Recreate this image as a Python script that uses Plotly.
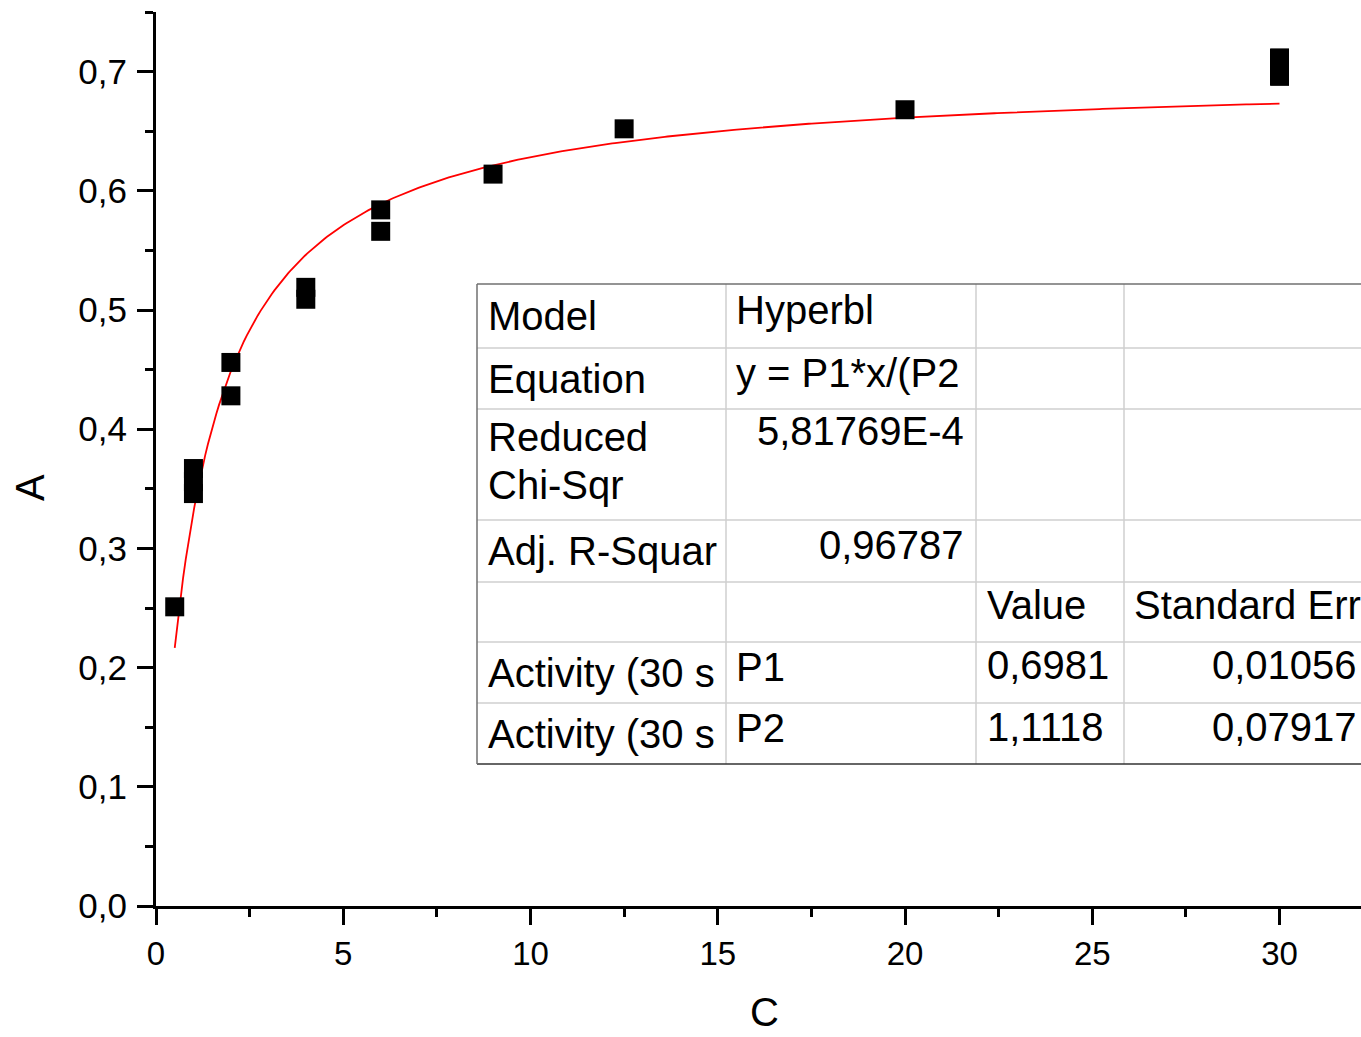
import numpy as np
import plotly.graph_objects as go

# ---- data ----
conc = [0.5, 1, 1, 1, 2, 2, 4, 4, 6, 6, 9, 12.5, 20, 30, 30]
activity = [0.251, 0.367, 0.356, 0.346, 0.456, 0.428, 0.519, 0.509,
            0.584, 0.566, 0.614, 0.652, 0.668, 0.7115, 0.696]

# fitted hyperbola parameters (from the fit table)
P1 = 0.6981
P2 = 1.1118

x_ticks = [0, 5, 10, 15, 20, 25, 30]
y_ticks = [0.0, 0.1, 0.2, 0.3, 0.4, 0.5, 0.6, 0.7]

# fit results table (rows x columns)
col_model = ["Model", "Equation", "Reduced\nChi-Sqr", "Adj. R-Squar", "",
             "Activity (30 s", "Activity (30 s"]
col_param = ["Hyperbl", "y = P1*x/(P2", "5,81769E-4", "0,96787", "", "P1", "P2"]
col_value = ["", "", "", "", "Value", "0,6981", "1,1118"]
col_err = ["", "", "", "", "Standard Err", "0,01056", "0,07917"]

# ---- layout geometry (pixels) ----
W, H = 1361, 1037
L, R, T, B = 156, 0, 12, 131
PW, PH = W - L - R, H - T - B
FONT = "Liberation Sans, Arial, sans-serif"


def px(x):
    return (x - L) / PW


def py(y):
    return (H - B - y) / PH


fit_x = np.linspace(min(conc), max(conc), 400)
fit_y = P1 * fit_x / (P2 + fit_x)

fig = go.Figure()
fig.add_trace(go.Scatter(x=fit_x, y=fit_y, mode="lines",
                         line=dict(color="#ff0000", width=1.8),
                         hoverinfo="skip", showlegend=False))
fig.add_trace(go.Scatter(x=conc, y=activity, mode="markers",
                         marker=dict(symbol="square", size=19, color="black",
                                     line=dict(width=0)),
                         showlegend=False))

# ---- table ----
col_edges = [477, 726, 976, 1124, 1372]
row_edges = [284, 348, 409, 520, 582, 642, 703, 764]
inner = "#cfcfcf"
outer = "#707070"
shapes = []
for yv in row_edges[1:-1]:
    shapes.append(dict(type="line", xref="paper", yref="paper",
                       x0=px(col_edges[0]), x1=px(col_edges[-1]), y0=py(yv), y1=py(yv),
                       line=dict(color=inner, width=1.5)))
for xv in col_edges[1:-1]:
    shapes.append(dict(type="line", xref="paper", yref="paper",
                       x0=px(xv), x1=px(xv), y0=py(row_edges[0]), y1=py(row_edges[-1]),
                       line=dict(color=inner, width=1.5)))
for yv in (row_edges[0], row_edges[-1]):
    shapes.append(dict(type="line", xref="paper", yref="paper",
                       x0=px(col_edges[0]), x1=px(col_edges[-1]), y0=py(yv), y1=py(yv),
                       line=dict(color=outer if yv == row_edges[0] else "#333333", width=1.5)))
shapes.append(dict(type="line", xref="paper", yref="paper",
                   x0=px(col_edges[0]), x1=px(col_edges[0]),
                   y0=py(row_edges[0]), y1=py(row_edges[-1]),
                   line=dict(color=outer, width=1.5)))

annotations = []
tf = dict(family=FONT, size=40, color="black")
pad = 9


def add_text(t, xpix, ypix, anchor):
    annotations.append(dict(text=t, xref="paper", yref="paper", x=px(xpix), y=py(ypix),
                            xanchor=anchor, yanchor="middle", showarrow=False, font=tf))


for i in range(len(row_edges) - 1):
    top, bot = row_edges[i], row_edges[i + 1]
    mid = (top + bot) / 2
    # column 1
    lines = col_model[i].split("\n")
    ys = [mid] if len(lines) == 1 else [top + 28, top + 76]
    for t, yv in zip(lines, ys):
        if t:
            add_text(t, col_edges[0] + pad, yv, "left")
    # column 2
    t = col_param[i]
    if t:
        yv = top + 22 if i == 2 else mid - 6
        if i in (2, 3):
            add_text(t, col_edges[2] - 10, yv, "right")
        else:
            add_text(t, col_edges[1] + 8, yv, "left")
    # column 3
    t = col_value[i]
    if t:
        add_text(t, col_edges[2] + pad, mid - 7, "left")
    # column 4
    t = col_err[i]
    if t:
        if i == 4:
            add_text(t, col_edges[3] + 8, mid - 7, "left")
        else:
            add_text(t, 1359, mid - 7, "right")

# axis titles
annotations.append(dict(text="C", xref="paper", yref="paper", x=px(764), y=py(1036),
                        xanchor="center", yanchor="bottom", showarrow=False,
                        font=dict(family=FONT, size=40, color="black")))
annotations.append(dict(text="A", xref="paper", yref="paper", x=px(30), y=py(488),
                        xanchor="center", yanchor="middle", showarrow=False, textangle=-90,
                        font=dict(family=FONT, size=40, color="black")))

axis_common = dict(showline=True, linecolor="black", linewidth=3, ticks="outside",
                   ticklen=16, tickwidth=3, tickcolor="black", showgrid=False,
                   zeroline=False, mirror=False)

fig.update_layout(
    width=W, height=H,
    margin=dict(l=L, r=R, t=T, b=B),
    paper_bgcolor="white", plot_bgcolor="white",
    separators=",.",
    font=dict(family=FONT, color="black"),
    xaxis=dict(range=[0, PW / 37.45], tickvals=x_ticks, ticklabelstandoff=0,
               tickfont=dict(family=FONT, size=33, color="black"),
               minor=dict(dtick=2.5, ticklen=8, tickwidth=3, tickcolor="black", ticks="outside"),
               **axis_common),
    yaxis=dict(range=[0, 0.75], tickvals=y_ticks, tickformat=".1f", ticklabelstandoff=3,
               tickfont=dict(family=FONT, size=35, color="black"),
               minor=dict(dtick=0.05, ticklen=8, tickwidth=3, tickcolor="black", ticks="outside"),
               **axis_common),
    shapes=shapes,
    annotations=annotations,
)

fig.write_html("out.html", config={"displayModeBar": False},
               post_script="document.body.style.margin='0';document.body.style.overflow='hidden';")
